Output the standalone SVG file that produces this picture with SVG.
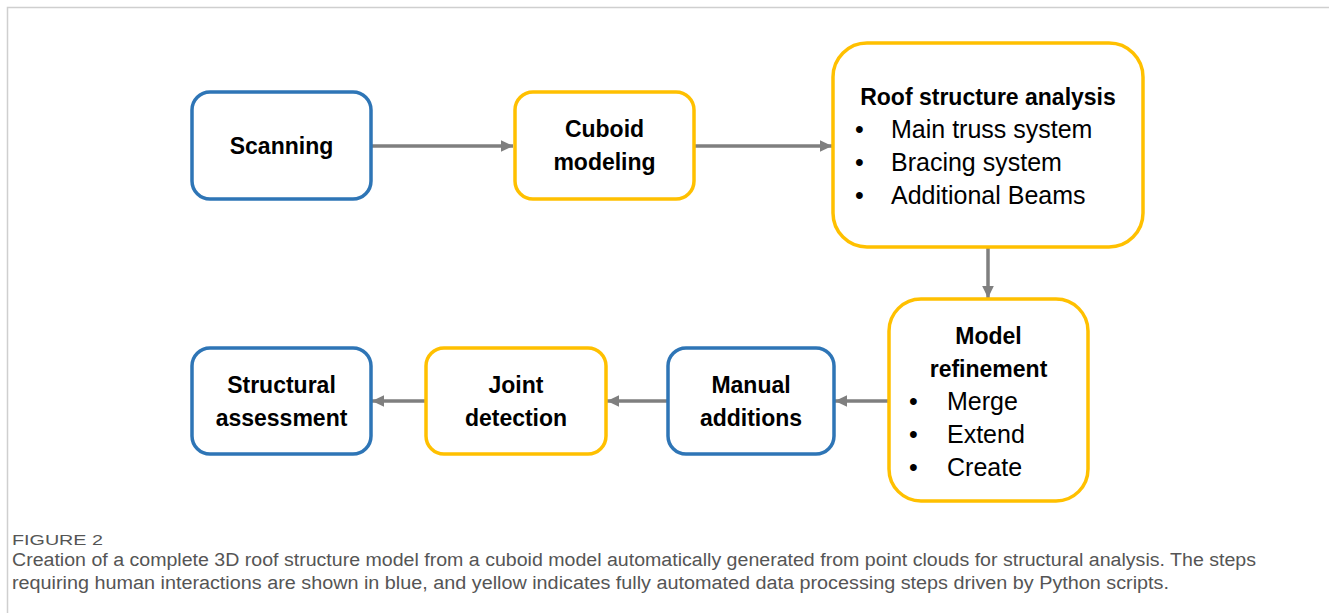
<svg xmlns="http://www.w3.org/2000/svg" width="1329" height="613" viewBox="0 0 1329 613">
<style>
.blue{fill:#fff;stroke:#2e75b6;stroke-width:3.5}
.yellow{fill:#fff;stroke:#ffc000;stroke-width:3.5}
.b{font-family:"Liberation Sans",Arial,sans-serif;font-weight:bold;font-size:23px;fill:#000;text-anchor:middle}
.r{font-family:"Liberation Sans",Arial,sans-serif;font-size:25px;fill:#000}
.con{stroke:#7f7f7f;stroke-width:3.5;fill:none;marker-end:url(#ah)}
.cap{font-family:"Liberation Sans",Arial,sans-serif;fill:#555}
</style>
<defs>
<marker id="ah" markerWidth="4.5" markerHeight="4.5" refX="3.5" refY="2.2" orient="auto" markerUnits="strokeWidth">
<path d="M0,0.5 L3.5,2.2 L0,3.9 Z" fill="#7f7f7f"/>
</marker>
</defs>
<rect width="1329" height="613" fill="#fff"/>
<path d="M7.5,613 V7.5 H1329" fill="none" stroke="#cfcfcf" stroke-width="1.5"/>
<g id="connectors">
<line class="con" x1="371" y1="146" x2="513" y2="146"/>
<line class="con" x1="694" y1="146" x2="832" y2="146"/>
<line class="con" x1="988" y1="247" x2="988" y2="298"/>
<line class="con" x1="889" y1="401" x2="835" y2="401"/>
<line class="con" x1="668" y1="401" x2="607" y2="401"/>
<line class="con" x1="426" y1="401" x2="372" y2="401"/>
</g>
<g id="scanning">
<rect class="blue" x="192" y="92" width="179" height="107" rx="18"/>
<text class="b" x="281.5" y="154">Scanning</text>
</g>
<g id="cuboid">
<rect class="yellow" x="515" y="92" width="179" height="107" rx="18"/>
<text class="b" x="604.5" y="137">Cuboid</text>
<text class="b" x="604.5" y="170">modeling</text>
</g>
<g id="roof">
<rect class="yellow" x="833" y="43" width="310" height="204" rx="34"/>
<text class="b" x="988" y="105">Roof structure analysis</text>
<text class="r" x="855" y="138">•</text><text class="r" x="891" y="138">Main truss system</text>
<text class="r" x="855" y="171">•</text><text class="r" x="891" y="171">Bracing system</text>
<text class="r" x="855" y="204">•</text><text class="r" x="891" y="204">Additional Beams</text>
</g>
<g id="refinement">
<rect class="yellow" x="889" y="299" width="199" height="202" rx="32"/>
<text class="b" x="988.5" y="344">Model</text>
<text class="b" x="988.5" y="377">refinement</text>
<text class="r" x="909" y="410">•</text><text class="r" x="947" y="410">Merge</text>
<text class="r" x="909" y="443">•</text><text class="r" x="947" y="443">Extend</text>
<text class="r" x="909" y="476">•</text><text class="r" x="947" y="476">Create</text>
</g>
<g id="manual">
<rect class="blue" x="668" y="348" width="166" height="106" rx="18"/>
<text class="b" x="751" y="393">Manual</text>
<text class="b" x="751" y="426">additions</text>
</g>
<g id="joint">
<rect class="yellow" x="426" y="348" width="180" height="106" rx="18"/>
<text class="b" x="516" y="393">Joint</text>
<text class="b" x="516" y="426">detection</text>
</g>
<g id="structural">
<rect class="blue" x="192" y="348" width="179" height="106" rx="18"/>
<text class="b" x="281.5" y="393">Structural</text>
<text class="b" x="281.5" y="426">assessment</text>
</g>
<text class="cap" x="12" y="545" font-size="14" fill="#666" textLength="91" lengthAdjust="spacingAndGlyphs">FIGURE 2</text>
<text class="cap" x="12" y="566" font-size="18" textLength="1244" lengthAdjust="spacingAndGlyphs">Creation of a complete 3D roof structure model from a cuboid model automatically generated from point clouds for structural analysis. The steps</text>
<text class="cap" x="12" y="589" font-size="18" textLength="1157" lengthAdjust="spacingAndGlyphs">requiring human interactions are shown in blue, and yellow indicates fully automated data processing steps driven by Python scripts.</text>
</svg>
